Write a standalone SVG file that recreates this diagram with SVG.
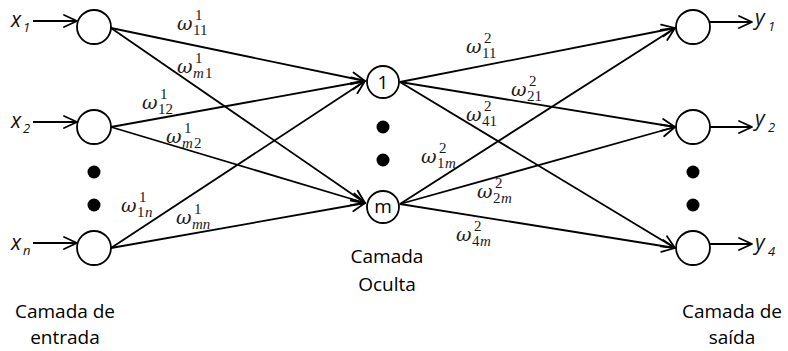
<svg xmlns="http://www.w3.org/2000/svg" width="788" height="351" viewBox="0 0 788 351">
<defs>
<marker id="ah" markerUnits="userSpaceOnUse" markerWidth="16" markerHeight="14" refX="0" refY="0" viewBox="-14 -7 16 14" orient="auto" overflow="visible">
<path d="M-13,-6 L0,0 L-13,6" fill="none" stroke="#000" stroke-width="1.8" stroke-linecap="round" stroke-linejoin="round"/>
</marker>
<style>
.n{fill:#fff;stroke:#000;stroke-width:1.8}
.c{fill:none;stroke:#000;stroke-width:1.8;marker-end:url(#ah)}
.d{fill:#000}
.w{font-family:"DejaVu Serif",serif;font-style:italic;font-size:19px;fill:#1a1a1a}
.s{font-family:"Liberation Serif",serif;font-size:15px;fill:#1a1a1a}
.si{font-family:"Liberation Serif",serif;font-style:italic;font-size:15px;fill:#1a1a1a}
.v{font-family:"Open Sans",sans-serif;font-style:italic;font-size:21px;fill:#111}
.vs{font-family:"Open Sans",sans-serif;font-style:italic;font-size:13px;fill:#111}
.t{font-family:"Open Sans",sans-serif;font-size:19px;fill:#000;text-anchor:middle}
</style>
</defs>
<g id="connectors">
<line class="c" x1="33" y1="21" x2="77" y2="21"/>
<line class="c" x1="33" y1="122" x2="77" y2="122"/>
<line class="c" x1="33" y1="243" x2="77" y2="243"/>
<line class="c" x1="111" y1="28" x2="365" y2="81"/>
<line class="c" x1="111" y1="28" x2="365" y2="203"/>
<line class="c" x1="111" y1="127" x2="365" y2="81"/>
<line class="c" x1="111" y1="127" x2="365" y2="203"/>
<line class="c" x1="111" y1="248" x2="365" y2="81"/>
<line class="c" x1="111" y1="248" x2="365" y2="203"/>
<line class="c" x1="400" y1="82" x2="675" y2="28"/>
<line class="c" x1="400" y1="82" x2="675" y2="127"/>
<line class="c" x1="400" y1="82" x2="675" y2="248"/>
<line class="c" x1="400" y1="204" x2="675" y2="28"/>
<line class="c" x1="400" y1="204" x2="675" y2="127"/>
<line class="c" x1="400" y1="204" x2="675" y2="248"/>
<line class="c" x1="710" y1="22" x2="752" y2="22"/>
<line class="c" x1="710" y1="127" x2="752" y2="127"/>
<line class="c" x1="710" y1="244" x2="752" y2="244"/>
</g>
<g id="in1"><circle class="n" cx="94" cy="27" r="17"/></g>
<g id="in2"><circle class="n" cx="94" cy="127" r="17"/></g>
<g id="inn"><circle class="n" cx="94" cy="248" r="17"/></g>
<g id="h1"><circle class="n" cx="383" cy="82" r="16"/><text class="t" x="383" y="89">1</text></g>
<g id="hm"><circle class="n" cx="383" cy="207" r="16"/><text class="t" x="383" y="213">m</text></g>
<g id="out1"><circle class="n" cx="693" cy="27" r="17"/></g>
<g id="out2"><circle class="n" cx="693" cy="127" r="17"/></g>
<g id="out4"><circle class="n" cx="693" cy="248" r="17"/></g>
<g id="dots">
<circle class="d" cx="94" cy="172" r="6.5"/><circle class="d" cx="94" cy="205" r="6.5"/>
<circle class="d" cx="383" cy="127" r="6.5"/><circle class="d" cx="383" cy="160" r="6.5"/>
<circle class="d" cx="693" cy="172" r="6.5"/><circle class="d" cx="693" cy="205" r="6.5"/>
</g>
<g id="inputs">
<text class="v" x="11" y="27">x</text><text class="vs" x="23" y="32">1</text>
<text class="v" x="11" y="128">x</text><text class="vs" x="23" y="133">2</text>
<text class="v" x="11" y="250">x</text><text class="vs" x="23" y="255">n</text>
</g>
<g id="outputs">
<text class="v" x="755" y="25">y</text><text class="vs" x="768" y="31">1</text>
<text class="v" x="755" y="126">y</text><text class="vs" x="768" y="132">2</text>
<text class="v" x="755" y="250">y</text><text class="vs" x="768" y="256">4</text>
</g>
<g id="weights">
<text class="w" x="177" y="30">ω</text><text class="s" x="195" y="20">1</text><text class="s" x="193" y="35">11</text>
<text class="w" x="177" y="73">ω</text><text class="s" x="195" y="63">1</text><text class="si" x="193" y="78">m</text><text class="s" x="205" y="78">1</text>
<text class="w" x="142" y="109">ω</text><text class="s" x="160" y="99">1</text><text class="s" x="158" y="114">12</text>
<text class="w" x="166" y="143">ω</text><text class="s" x="184" y="133">1</text><text class="si" x="182" y="148">m</text><text class="s" x="194" y="148">2</text>
<text class="w" x="121" y="212">ω</text><text class="s" x="139" y="202">1</text><text class="s" x="137" y="217">1</text><text class="si" x="145" y="217">n</text>
<text class="w" x="176" y="224">ω</text><text class="s" x="194" y="214">1</text><text class="si" x="192" y="229">mn</text>
<text class="w" x="466" y="53">ω</text><text class="s" x="484" y="43">2</text><text class="s" x="482" y="58">11</text>
<text class="w" x="511" y="96">ω</text><text class="s" x="529" y="86">2</text><text class="s" x="527" y="101">21</text>
<text class="w" x="466" y="121">ω</text><text class="s" x="484" y="111">2</text><text class="s" x="482" y="126">41</text>
<text class="w" x="421" y="163">ω</text><text class="s" x="439" y="153">2</text><text class="s" x="437" y="168">1</text><text class="si" x="445" y="168">m</text>
<text class="w" x="477" y="198">ω</text><text class="s" x="495" y="188">2</text><text class="s" x="493" y="203">2</text><text class="si" x="501" y="203">m</text>
<text class="w" x="456" y="241">ω</text><text class="s" x="474" y="231">2</text><text class="s" x="472" y="246">4</text><text class="si" x="480" y="246">m</text>
</g>
<g id="layer-labels">
<text class="t" x="65" y="318">Camada de</text>
<text class="t" x="65" y="344">entrada</text>
<text class="t" x="387" y="263">Camada</text>
<text class="t" x="387" y="291">Oculta</text>
<text class="t" x="732" y="318">Camada de</text>
<text class="t" x="732" y="344">saída</text>
</g>
</svg>
